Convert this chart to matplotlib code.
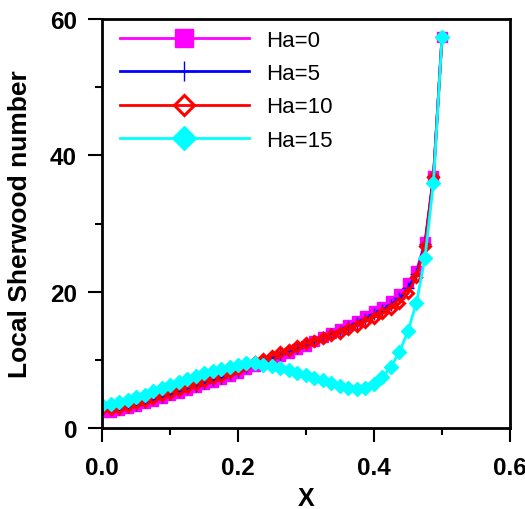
import matplotlib
matplotlib.use('Agg')
import matplotlib.pyplot as plt
from matplotlib.ticker import MultipleLocator, FormatStrFormatter

plt.rcParams['font.family'] = ['Liberation Sans', 'DejaVu Sans']

# axial position along the wall
x = [0.0, 0.0125, 0.025, 0.0375, 0.05, 0.0625, 0.075, 0.0875, 0.1, 0.1125,
     0.125, 0.1375, 0.15, 0.1625, 0.175, 0.1875, 0.2, 0.2125, 0.225, 0.2375,
     0.25, 0.2625, 0.275, 0.2875, 0.3, 0.3125, 0.325, 0.3375, 0.35, 0.3625,
     0.375, 0.3875, 0.4, 0.4125, 0.425, 0.4375, 0.45, 0.4625, 0.475, 0.4875, 0.5]

sh_ha0 = [2.3, 2.4, 2.6, 2.9, 3.2, 3.6, 4.0, 4.4, 4.8, 5.2,
          5.6, 6.0, 6.4, 6.8, 7.2, 7.6, 8.1, 8.6, 9.1, 9.6,
          10.0, 10.5, 11.0, 11.6, 12.1, 12.7, 13.3, 13.9, 14.5, 15.1,
          15.7, 16.4, 17.1, 17.8, 18.7, 19.7, 21.2, 23.0, 27.3, 37.0, 57.3]

sh_ha5 = [2.5, 2.6, 2.8, 3.1, 3.4, 3.8, 4.2, 4.6, 5.0, 5.4,
          5.8, 6.2, 6.6, 7.0, 7.4, 7.9, 8.4, 8.9, 9.4, 9.9,
          10.3, 10.8, 11.3, 11.8, 12.3, 12.8, 13.3, 13.8, 14.3, 14.8,
          15.4, 16.0, 16.7, 17.3, 18.1, 19.0, 20.5, 22.6, 27.0, 36.9, 57.3]

sh_ha10 = [2.8, 2.8, 3.0, 3.3, 3.6, 4.0, 4.4, 4.8, 5.2, 5.6,
           6.0, 6.4, 6.9, 7.3, 7.7, 8.2, 8.7, 9.2, 9.7, 10.1,
           10.6, 11.1, 11.5, 12.0, 12.4, 12.8, 13.2, 13.6, 14.0, 14.5,
           15.0, 15.6, 16.2, 16.8, 17.5, 18.3, 19.8, 22.2, 26.7, 36.8, 57.3]

sh_ha15 = [3.4, 3.5, 3.8, 4.1, 4.5, 4.9, 5.4, 5.8, 6.3, 6.8,
           7.2, 7.6, 8.0, 8.4, 8.7, 9.0, 9.3, 9.5, 9.5, 9.3,
           9.1, 8.8, 8.5, 8.1, 7.8, 7.4, 7.0, 6.6, 6.2, 5.9,
           5.7, 5.9, 6.4, 7.5, 9.0, 11.2, 14.2, 18.4, 25.0, 36.0, 57.3]

fig = plt.figure(figsize=(5.25, 5.10), dpi=100)
ax = fig.add_axes([0.1943, 0.1588, 0.7771, 0.802])

ax.plot(x, sh_ha0, color='#ff00ff', lw=2, marker='s', ms=7.5, mec='#ff00ff', label='Ha=0')
ax.plot(x, sh_ha5, color='#0000ff', lw=2, marker='+', ms=8, mew=1, label='Ha=5')
ax.plot(x, sh_ha10, color='#ff0000', lw=2, marker='D', ms=5.5, mfc='none', mew=2.2, label='Ha=10')
ax.plot(x, sh_ha15, color='#00ffff', lw=2, marker='D', ms=7, label='Ha=15')

ax.set_xlim(0, 0.6)
ax.set_ylim(0, 60)
ax.xaxis.set_major_locator(MultipleLocator(0.2))
ax.xaxis.set_minor_locator(MultipleLocator(0.1))
ax.yaxis.set_major_locator(MultipleLocator(20))
ax.yaxis.set_minor_locator(MultipleLocator(10))
ax.xaxis.set_major_formatter(FormatStrFormatter('%.1f'))

ax.tick_params(which='major', direction='out', length=10, width=1.5, labelsize=17.5)
ax.tick_params(axis='x', which='major', pad=10)
ax.tick_params(axis='y', which='major', pad=8)
ax.tick_params(which='minor', direction='out', length=5, width=1.5)
for lbl in ax.get_xticklabels() + ax.get_yticklabels():
    lbl.set_fontweight('bold')
for sp in ax.spines.values():
    sp.set_linewidth(2)

ax.set_xlabel('X', fontsize=18, fontweight='bold', labelpad=5)
ax.set_ylabel('Local Sherwood number', fontsize=19, fontweight='bold', labelpad=13)

ax.legend(loc='upper left', frameon=False, fontsize=16, markerscale=1.8,
          handlelength=5.8, handletextpad=0.8, labelspacing=0.55,
          borderaxespad=0.0, bbox_to_anchor=(0.022, 0.995))

fig.savefig('out.png', dpi=100)
